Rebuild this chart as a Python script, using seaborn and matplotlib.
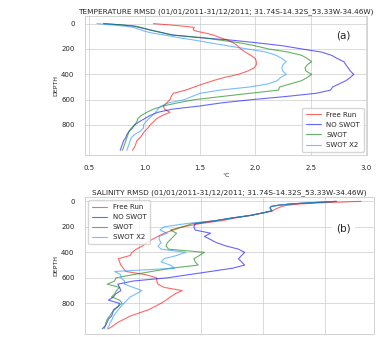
import pandas as pd
import matplotlib
matplotlib.use("Agg")
import matplotlib.pyplot as plt
import seaborn as sns

# profondeurs communes (m)
depth = [0, 10, 20, 30, 40, 50, 60, 75, 90, 110, 130, 150, 175, 200, 225, 250, 275, 300,
         325, 350, 375, 400, 425, 450, 475, 500, 525, 550, 575, 600, 625, 650, 675, 700,
         725, 750, 775, 800, 825, 850, 875, 900, 925, 950, 975, 1000]

runs = ["Free Run", "NO SWOT", "SWOT", "SWOT X2"]
colors = ["red", "blue", "green", "dodgerblue"]

# temperature RMSD (degC)
temp_free = [1.08, 1.22, 1.35, 1.45, 1.44, 1.44, 1.47, 1.55, 1.62, 1.68, 1.75, 1.80, 1.84, 1.87,
             1.91, 1.96, 2.00, 2.01, 2.01, 1.99, 1.93, 1.85, 1.72, 1.62, 1.53, 1.45, 1.37, 1.26,
             1.24, 1.23, 1.20, 1.17, 1.18, 1.23, 1.16, 1.11, 1.08, 1.05, 1.03, 1.00, 0.98, 0.96,
             0.93, 0.92, 0.91, 0.89]
temp_noswot = [0.63, 0.78, 0.90, 0.95, 1.00, 1.05, 1.10, 1.18, 1.26, 1.48, 1.78, 2.00, 2.25, 2.42,
               2.60, 2.69, 2.74, 2.80, 2.82, 2.84, 2.86, 2.89, 2.86, 2.82, 2.76, 2.70, 2.68, 2.55,
               2.28, 1.97, 1.70, 1.50, 1.25, 1.12, 1.05, 1.00, 0.95, 0.91, 0.89, 0.86, 0.84, 0.83,
               0.81, 0.80, 0.79, 0.78]
temp_swot = [0.63, 0.80, 0.92, 0.97, 1.01, 1.05, 1.10, 1.17, 1.24, 1.52, 1.68, 1.85, 2.00, 2.12,
             2.30, 2.42, 2.47, 2.51, 2.47, 2.45, 2.46, 2.51, 2.47, 2.42, 2.32, 2.22, 2.21, 1.95,
             1.70, 1.45, 1.30, 1.17, 1.08, 1.02, 0.97, 0.94, 0.93, 0.91, 0.88, 0.86, 0.85, 0.84,
             0.83, 0.82, 0.81, 0.80]
temp_swotx2 = [0.57, 0.70, 0.82, 0.90, 0.93, 0.97, 1.00, 1.07, 1.18, 1.30, 1.45, 1.58, 1.75, 1.93,
               2.10, 2.19, 2.24, 2.28, 2.25, 2.24, 2.25, 2.28, 2.23, 2.20, 2.12, 1.95, 1.68, 1.50,
               1.43, 1.36, 1.22, 1.15, 1.12, 1.10, 1.07, 1.04, 1.01, 0.99, 0.99, 0.96, 0.91, 0.88,
               0.87, 0.86, 0.85, 0.84]

# salinity RMSD
sal_free = [0.458, 0.40, 0.36, 0.34, 0.33, 0.325, 0.32, 0.315, 0.30, 0.28, 0.255, 0.235, 0.198,
            0.17, 0.155, 0.14, 0.13, 0.12, 0.112, 0.105, 0.095, 0.088, 0.085, 0.066, 0.068, 0.07,
            0.074, 0.078, 0.11, 0.128, 0.128, 0.13, 0.14, 0.169, 0.158, 0.15, 0.143, 0.135,
            0.125, 0.115, 0.10, 0.085, 0.075, 0.065, 0.058, 0.05]
sal_noswot = [0.418, 0.38, 0.345, 0.325, 0.313, 0.311, 0.312, 0.314, 0.30, 0.28, 0.25, 0.225,
              0.19, 0.188, 0.19, 0.215, 0.205, 0.215, 0.225, 0.24, 0.26, 0.27, 0.265, 0.26,
              0.265, 0.27, 0.25, 0.215, 0.18, 0.145, 0.09, 0.065, 0.068, 0.07, 0.062, 0.058,
              0.05, 0.068, 0.066, 0.058, 0.057, 0.055, 0.05, 0.048, 0.045, 0.04]
sal_swot = [0.418, 0.38, 0.345, 0.325, 0.313, 0.311, 0.312, 0.314, 0.30, 0.28, 0.25, 0.225,
            0.185, 0.17, 0.15, 0.16, 0.155, 0.15, 0.145, 0.143, 0.147, 0.205, 0.197, 0.188,
            0.19, 0.195, 0.15, 0.12, 0.09, 0.062, 0.06, 0.048, 0.068, 0.063, 0.06, 0.055,
            0.068, 0.072, 0.065, 0.06, 0.055, 0.052, 0.048, 0.046, 0.045, 0.043]
sal_swotx2 = [0.418, 0.38, 0.345, 0.325, 0.313, 0.311, 0.312, 0.314, 0.30, 0.28, 0.25, 0.225,
              0.175, 0.14, 0.133, 0.145, 0.132, 0.132, 0.135, 0.13, 0.135, 0.175, 0.16, 0.14,
              0.135, 0.15, 0.157, 0.06, 0.07, 0.07, 0.076, 0.076, 0.09, 0.104, 0.095, 0.085,
              0.08, 0.075, 0.07, 0.066, 0.062, 0.058, 0.056, 0.053, 0.051, 0.048]

title_t = "TEMPERATURE RMSD (01/01/2011-31/12/2011; 31.74S-14.32S_53.33W-34.46W)"
title_s = "SALINITY RMSD (01/01/2011-31/12/2011; 31.74S-14.32S_53.33W-34.46W)"


def long_df(series):
    rows = []
    for name, vals in zip(runs, series):
        for d, v in zip(depth, vals):
            rows.append({"run": name, "depth": d, "rmsd": v})
    return pd.DataFrame(rows)


df_t = long_df([temp_free, temp_noswot, temp_swot, temp_swotx2])
df_s = long_df([sal_free, sal_noswot, sal_swot, sal_swotx2])

sns.set_theme(style="whitegrid")
plt.rcParams["font.family"] = ["DejaVu Sans"]
plt.rcParams["font.size"] = 5

fig = plt.figure(figsize=(3.86, 3.37), dpi=100)
ax1 = fig.add_axes([0.220, 0.540, 0.731, 0.4125])
ax2 = fig.add_axes([0.220, 0.008, 0.749, 0.4074])

for ax, df in [(ax1, df_t), (ax2, df_s)]:
    sns.lineplot(data=df, x="rmsd", y="depth", hue="run", palette=colors,
                 estimator=None, sort=False, orient="y", lw=0.8, alpha=0.6, ax=ax)
    ax.set_yticks([0, 200, 400, 600, 800])
    ax.tick_params(labelsize=5, pad=1.5)
    ax.set_ylabel("DEPTH", fontsize=4.5, labelpad=2)
    ax.grid(lw=0.5)
    for s in ax.spines.values():
        s.set_linewidth(0.6)

ax1.set_xlim(0.461, 3.011)
ax1.set_ylim(1037, -60)
ax1.set_xticks([0.5, 1.0, 1.5, 2.0, 2.5, 3.0])
ax1.set_xlabel("°C", fontsize=4.5, labelpad=1)
ax1.set_title(title_t, fontsize=5.3, pad=2)
ax1.legend(loc="lower right", fontsize=5, frameon=True, handlelength=2.2,
           borderpad=0.5, labelspacing=0.6)
ax1.text(0.915, 0.86, "(a)", transform=ax1.transAxes, fontsize=7.5, ha="center", va="center",
         bbox=dict(facecolor="white", edgecolor="none", pad=1))

# l'axe x du bas est coupé par le bord de l'image
ax2.set_xlim(0.012, 0.479)
ax2.set_ylim(1043, -34)
ax2.set_xticks([0.1, 0.2, 0.3, 0.4])
ax2.tick_params(axis="x", labelbottom=False)
ax2.set_xlabel("")
ax2.set_title(title_s, fontsize=5.3, pad=2)
ax2.legend(loc="upper left", fontsize=5, frameon=True, handlelength=2.2,
           borderpad=0.5, labelspacing=0.6)
ax2.text(0.895, 0.77, "(b)", transform=ax2.transAxes, fontsize=7.5, ha="center", va="center",
         bbox=dict(facecolor="white", edgecolor="none", pad=3))

plt.savefig("out.png", dpi=100)
